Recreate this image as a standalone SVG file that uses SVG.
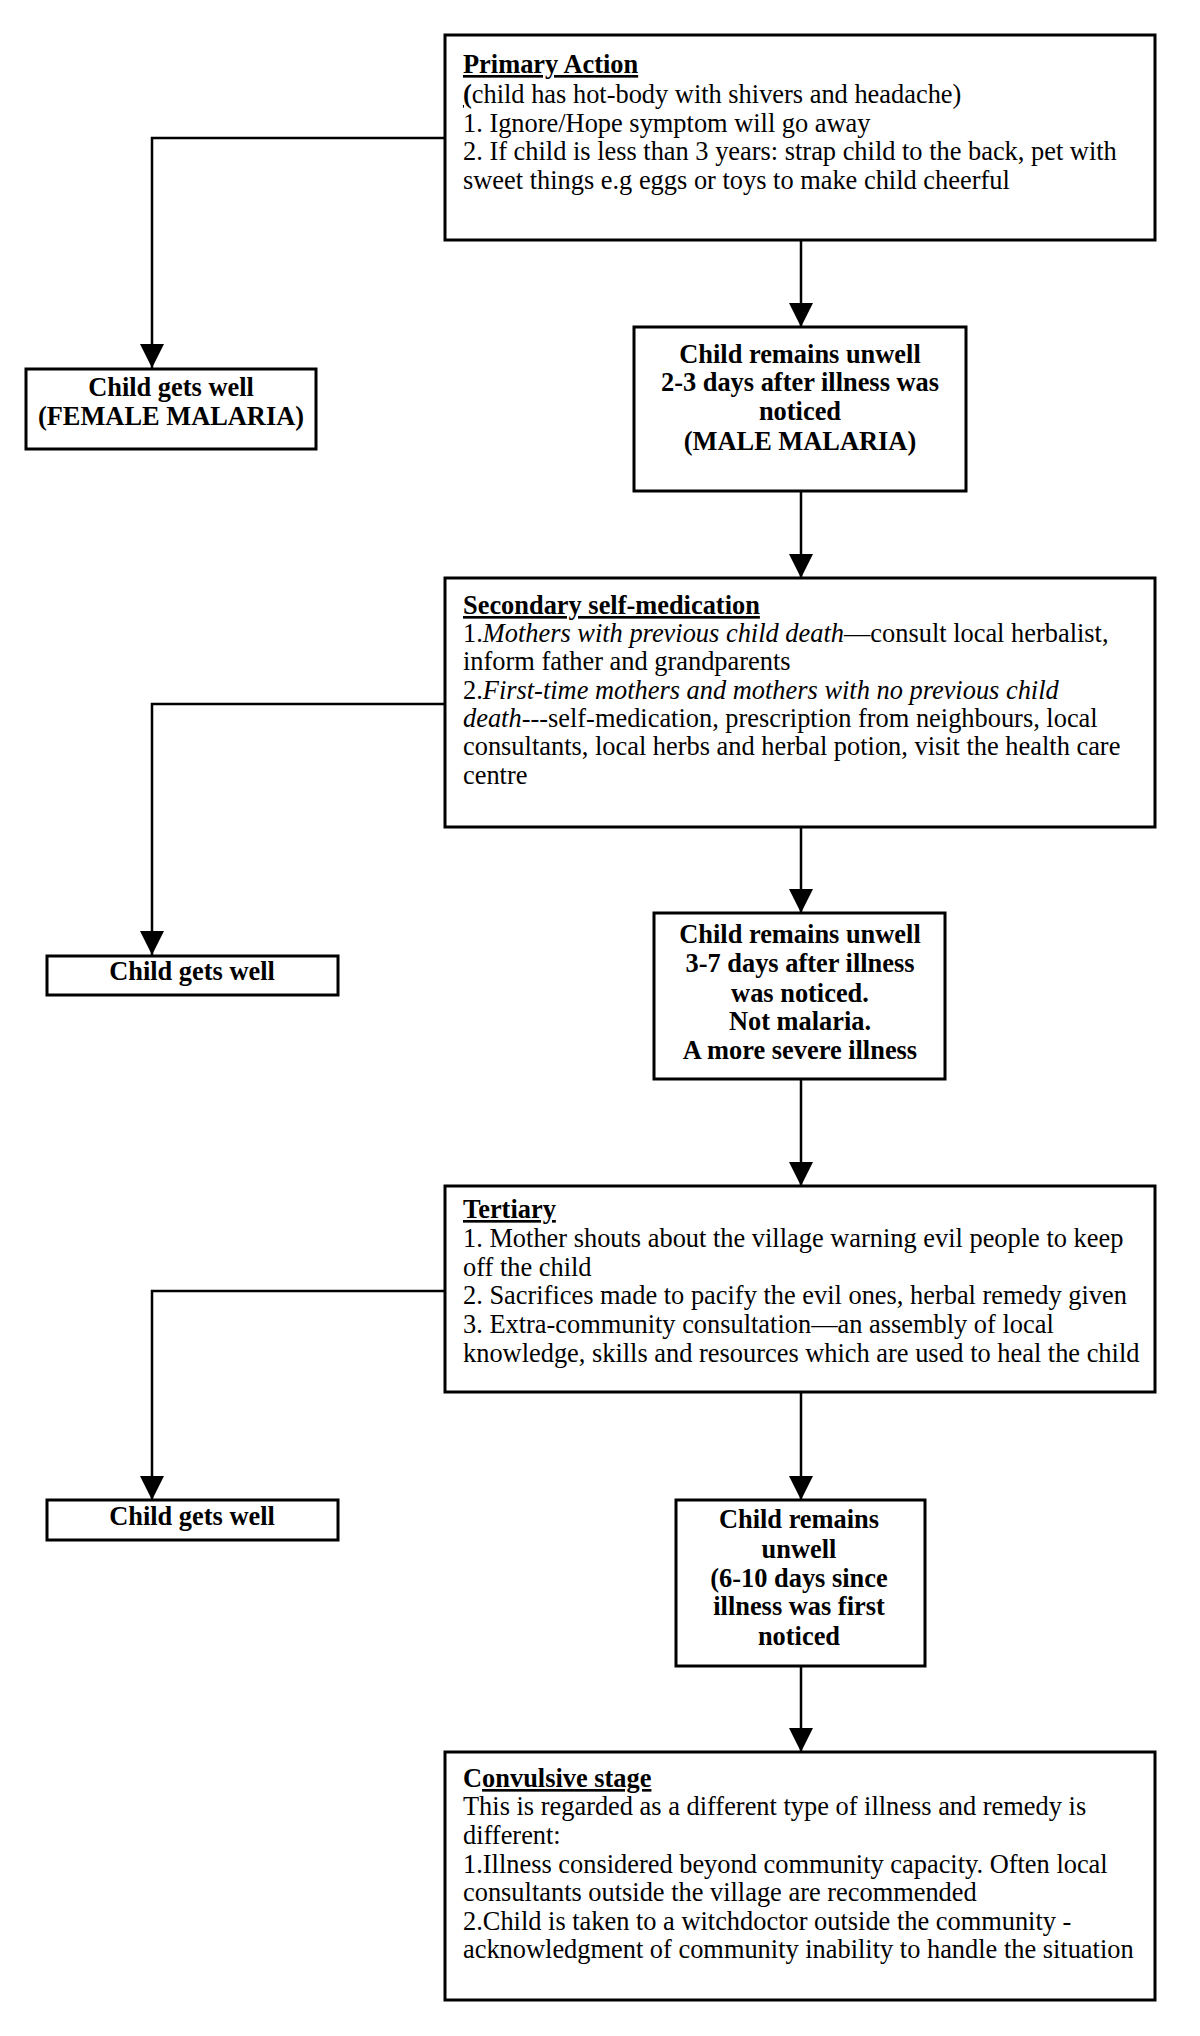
<svg xmlns="http://www.w3.org/2000/svg" width="1200" height="2036" viewBox="0 0 1200 2036">
  <defs>
    <marker id="arrow" markerUnits="userSpaceOnUse" markerWidth="24" markerHeight="24" refX="24" refY="12" orient="auto">
      <path d="M0,0 L24,12 L0,24 Z" fill="#000"/>
    </marker>
    <style>
      .box { fill: #fff; stroke: #000; stroke-width: 3; }
      .conn { fill: none; stroke: #000; stroke-width: 2.5; marker-end: url(#arrow); }
      text { font-family: "Liberation Serif", "Times New Roman", serif; font-size: 26.4px; fill: #000; }
      .b { font-weight: bold; }
      .c { text-anchor: middle; font-weight: bold; }
      .u { text-decoration: underline; }
      .i { font-style: italic; }
    </style>
  </defs>
  <rect x="0" y="0" width="1200" height="2036" fill="#fff"/>

  <g id="connectors">
    <path class="conn" d="M801,240 V327"/>
    <path class="conn" d="M445,138 H152 V368"/>
    <path class="conn" d="M801,491 V578"/>
    <path class="conn" d="M445,704 H152 V955"/>
    <path class="conn" d="M801,827 V913"/>
    <path class="conn" d="M801,1079 V1186"/>
    <path class="conn" d="M445,1291 H152 V1500"/>
    <path class="conn" d="M801,1392 V1500"/>
    <path class="conn" d="M801,1666 V1752"/>
  </g>

  <g id="primary">
    <rect class="box" x="445" y="35" width="710" height="205"/>
    <text x="463" y="73"><tspan class="b u">Primary Action</tspan></text>
    <text x="463" y="103"><tspan class="b u">(</tspan>child has hot-body with shivers and headache)</text>
    <text x="463" y="132">1. Ignore/Hope symptom will go away</text>
    <text x="463" y="160">2. If child is less than 3 years: strap child to the back, pet with</text>
    <text x="463" y="189">sweet things e.g eggs or toys to make child cheerful</text>
  </g>

  <g id="female-malaria">
    <rect class="box" x="26" y="369" width="290" height="80"/>
    <text class="c" x="171" y="396">Child gets well</text>
    <text class="c" x="171" y="425">(FEMALE MALARIA)</text>
  </g>

  <g id="male-malaria">
    <rect class="box" x="634" y="327" width="332" height="164"/>
    <text class="c" x="800" y="363">Child remains unwell</text>
    <text class="c" x="800" y="391">2-3 days after illness was</text>
    <text class="c" x="800" y="420">noticed</text>
    <text class="c" x="800" y="450">(MALE MALARIA)</text>
  </g>

  <g id="secondary">
    <rect class="box" x="445" y="578" width="710" height="249"/>
    <text x="463" y="614"><tspan class="b u">Secondary self-medication </tspan></text>
    <text x="463" y="642">1.<tspan class="i">Mothers with previous child death</tspan>—consult local herbalist,</text>
    <text x="463" y="670">inform father and grandparents</text>
    <text x="463" y="699">2.<tspan class="i">First-time mothers and mothers with no previous child</tspan></text>
    <text x="463" y="727"><tspan class="i">death</tspan>---self-medication, prescription from neighbours, local</text>
    <text x="463" y="755">consultants, local herbs and herbal potion, visit the health care</text>
    <text x="463" y="784">centre</text>
  </g>

  <g id="gets-well-1">
    <rect class="box" x="47" y="956" width="291" height="39"/>
    <text class="c" x="192" y="980">Child gets well</text>
  </g>

  <g id="unwell-3-7">
    <rect class="box" x="654" y="913" width="291" height="166"/>
    <text class="c" x="800" y="943">Child remains unwell</text>
    <text class="c" x="800" y="972">3-7 days after illness</text>
    <text class="c" x="800" y="1002">was noticed.</text>
    <text class="c" x="800" y="1030">Not malaria.</text>
    <text class="c" x="800" y="1059">A more severe illness</text>
  </g>

  <g id="tertiary">
    <rect class="box" x="445" y="1186" width="710" height="206"/>
    <text x="463" y="1218"><tspan class="b u">Tertiary</tspan></text>
    <text x="463" y="1247">1. Mother shouts about the village warning evil people to keep</text>
    <text x="463" y="1276">off the child</text>
    <text x="463" y="1304">2. Sacrifices made to pacify the evil ones, herbal remedy given</text>
    <text x="463" y="1333">3. Extra-community consultation—an assembly of local</text>
    <text x="463" y="1362">knowledge, skills and resources which are used to heal the child</text>
  </g>

  <g id="gets-well-2">
    <rect class="box" x="47" y="1500" width="291" height="40"/>
    <text class="c" x="192" y="1525">Child gets well</text>
  </g>

  <g id="unwell-6-10">
    <rect class="box" x="676" y="1500" width="249" height="166"/>
    <text class="c" x="799" y="1528">Child remains</text>
    <text class="c" x="799" y="1558">unwell</text>
    <text class="c" x="799" y="1587">(6-10 days since</text>
    <text class="c" x="799" y="1615">illness was first</text>
    <text class="c" x="799" y="1645">noticed</text>
  </g>

  <g id="convulsive">
    <rect class="box" x="445" y="1752" width="710" height="248"/>
    <text x="463" y="1787"><tspan class="b">C</tspan><tspan class="b u">onvulsive stage</tspan></text>
    <text x="463" y="1815">This is regarded as a different type of illness and remedy is</text>
    <text x="463" y="1844">different:</text>
    <text x="463" y="1873">1.Illness considered beyond community capacity. Often local</text>
    <text x="463" y="1901">consultants outside the village are recommended</text>
    <text x="463" y="1930">2.Child is taken to a witchdoctor outside the community -</text>
    <text x="463" y="1958">acknowledgment of community inability to handle the situation</text>
  </g>
</svg>
